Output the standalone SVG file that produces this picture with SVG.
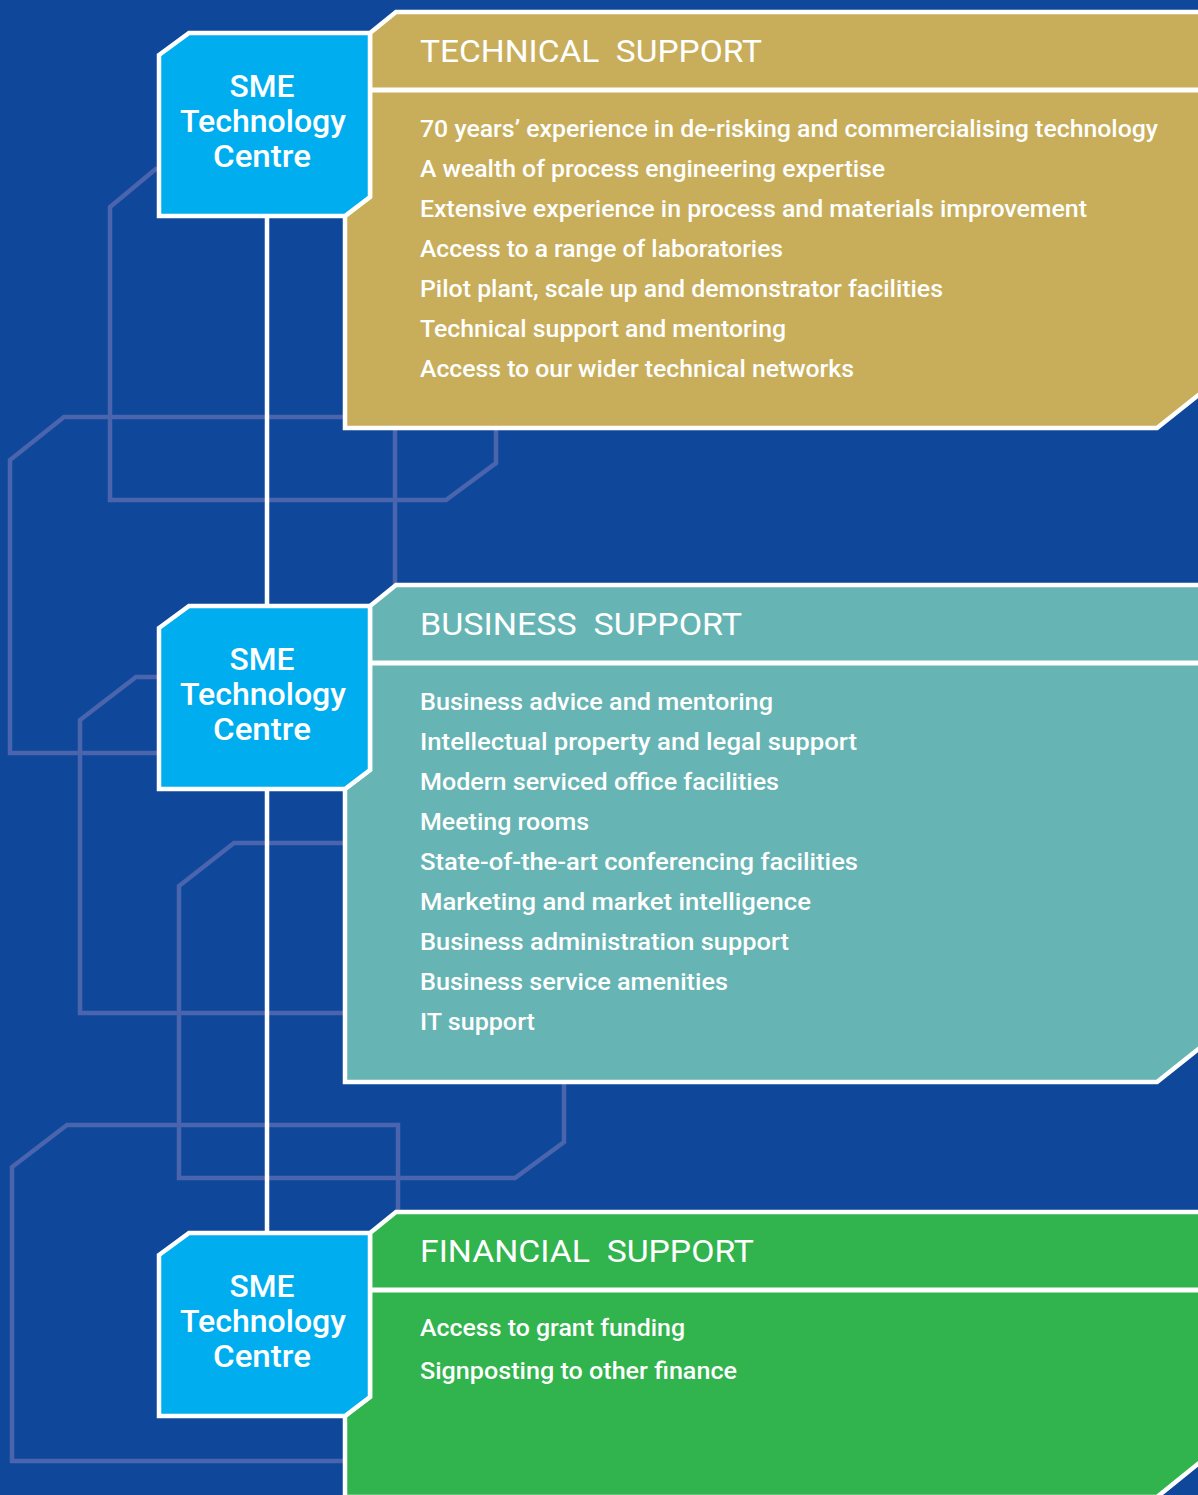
<svg xmlns="http://www.w3.org/2000/svg" width="1198" height="1495" viewBox="0 0 1198 1495">
<style>
.bg{fill:none;stroke:#4A64AD;stroke-width:4.5}
.conn{stroke:#fff;stroke-width:4.5}
.panel{stroke:#fff;stroke-width:4.5;stroke-linejoin:miter}
.tan{fill:#C8AE5B}
.teal{fill:#66B5B4}
.green{fill:#31B34D}
.sme{fill:#00AEEF;stroke:#fff;stroke-width:4.5}
.div{stroke:#fff;stroke-width:5}
text{font-family:Roboto,"Liberation Sans",Arial,sans-serif;fill:#fff;font-weight:500}
.h{font-size:31px;font-weight:400}
.it{font-size:24px}
.s{font-size:31px;text-anchor:middle}
</style>
<rect width="1198" height="1495" fill="#0F489B"/>
<g id="background">
<polyline class="bg" points="157,168 110,207 110,500 446,500 496,463 496,420"/>
<polyline class="bg" points="395,590 395,417 64,417 10,460 10,753 160,753"/>
<polyline class="bg" points="160,677 136,677 80,720 80,1013 350,1013"/>
<polyline class="bg" points="350,843 234,843 179,886 179,1178 515,1178 564,1142 564,1075"/>
<polyline class="bg" points="350,1461 12,1461 12,1167 67,1125 398,1125 398,1215"/>
</g>
<g id="connectors">
<line class="conn" x1="267" y1="214" x2="267" y2="608"/>
<line class="conn" x1="267" y1="787" x2="267" y2="1234"/>
</g>
<g id="technical">
<path class="panel tan" d="M370,197 L370,33 L396,12 L1215,12 L1215,382 L1157,428 L345,428 L345,216 Z"/>
<line class="div" x1="370" y1="90" x2="1205" y2="90"/>
<text class="h" x="420" y="62" xml:space="preserve" textLength="342" lengthAdjust="spacingAndGlyphs">TECHNICAL  SUPPORT</text>
<text class="it" x="420" y="137" textLength="738" lengthAdjust="spacingAndGlyphs">70 years’ experience in de-risking and commercialising technology</text>
<text class="it" x="420" y="177" textLength="465" lengthAdjust="spacingAndGlyphs">A wealth of process engineering expertise</text>
<text class="it" x="420" y="217" textLength="667" lengthAdjust="spacingAndGlyphs">Extensive experience in process and materials improvement</text>
<text class="it" x="420" y="257" textLength="363" lengthAdjust="spacingAndGlyphs">Access to a range of laboratories</text>
<text class="it" x="420" y="297" textLength="523" lengthAdjust="spacingAndGlyphs">Pilot plant, scale up and demonstrator facilities</text>
<text class="it" x="420" y="337" textLength="366" lengthAdjust="spacingAndGlyphs">Technical support and mentoring</text>
<text class="it" x="420" y="377" textLength="434" lengthAdjust="spacingAndGlyphs">Access to our wider technical networks</text>
</g>
<g id="sme1">
<path class="sme" d="M159,55 L189,33 L370,33 L370,197 L345,216 L159,216 Z"/>
<text class="s" x="262" y="97" textLength="65" lengthAdjust="spacingAndGlyphs">SME</text>
<text class="s" x="263" y="132" textLength="166" lengthAdjust="spacingAndGlyphs">Technology</text>
<text class="s" x="262" y="167" textLength="98" lengthAdjust="spacingAndGlyphs">Centre</text>
</g>
<g id="business" transform="translate(0,573)">
<path class="panel teal" d="M370,197 L370,33 L396,12 L1215,12 L1215,463 L1157,509 L345,509 L345,216 Z"/>
<line class="div" x1="370" y1="90" x2="1205" y2="90"/>
<text class="h" x="420" y="62" xml:space="preserve" textLength="322" lengthAdjust="spacingAndGlyphs">BUSINESS  SUPPORT</text>
<text class="it" x="420" y="137" textLength="353" lengthAdjust="spacingAndGlyphs">Business advice and mentoring</text>
<text class="it" x="420" y="177" textLength="437" lengthAdjust="spacingAndGlyphs">Intellectual property and legal support</text>
<text class="it" x="420" y="217" textLength="359" lengthAdjust="spacingAndGlyphs">Modern serviced office facilities</text>
<text class="it" x="420" y="257" textLength="169" lengthAdjust="spacingAndGlyphs">Meeting rooms</text>
<text class="it" x="420" y="297" textLength="438" lengthAdjust="spacingAndGlyphs">State-of-the-art conferencing facilities</text>
<text class="it" x="420" y="337" textLength="391" lengthAdjust="spacingAndGlyphs">Marketing and market intelligence</text>
<text class="it" x="420" y="377" textLength="369" lengthAdjust="spacingAndGlyphs">Business administration support</text>
<text class="it" x="420" y="417" textLength="308" lengthAdjust="spacingAndGlyphs">Business service amenities</text>
<text class="it" x="420" y="457" textLength="115" lengthAdjust="spacingAndGlyphs">IT support</text>
</g>
<g id="sme2" transform="translate(0,573)">
<path class="sme" d="M159,55 L189,33 L370,33 L370,197 L345,216 L159,216 Z"/>
<text class="s" x="262" y="97" textLength="65" lengthAdjust="spacingAndGlyphs">SME</text>
<text class="s" x="263" y="132" textLength="166" lengthAdjust="spacingAndGlyphs">Technology</text>
<text class="s" x="262" y="167" textLength="98" lengthAdjust="spacingAndGlyphs">Centre</text>
</g>
<g id="financial" transform="translate(0,1200)">
<path class="panel green" d="M370,197 L370,33 L396,12 L1215,12 L1215,250 L1157,297 L345,297 L345,216 Z"/>
<line class="div" x1="370" y1="90" x2="1205" y2="90"/>
<text class="h" x="420" y="62" xml:space="preserve" textLength="334" lengthAdjust="spacingAndGlyphs">FINANCIAL  SUPPORT</text>
<text class="it" x="420" y="136" textLength="265" lengthAdjust="spacingAndGlyphs">Access to grant funding</text>
<text class="it" x="420" y="179" textLength="317" lengthAdjust="spacingAndGlyphs">Signposting to other finance</text>
</g>
<g id="sme3" transform="translate(0,1200)">
<path class="sme" d="M159,55 L189,33 L370,33 L370,197 L345,216 L159,216 Z"/>
<text class="s" x="262" y="97" textLength="65" lengthAdjust="spacingAndGlyphs">SME</text>
<text class="s" x="263" y="132" textLength="166" lengthAdjust="spacingAndGlyphs">Technology</text>
<text class="s" x="262" y="167" textLength="98" lengthAdjust="spacingAndGlyphs">Centre</text>
</g>
</svg>
